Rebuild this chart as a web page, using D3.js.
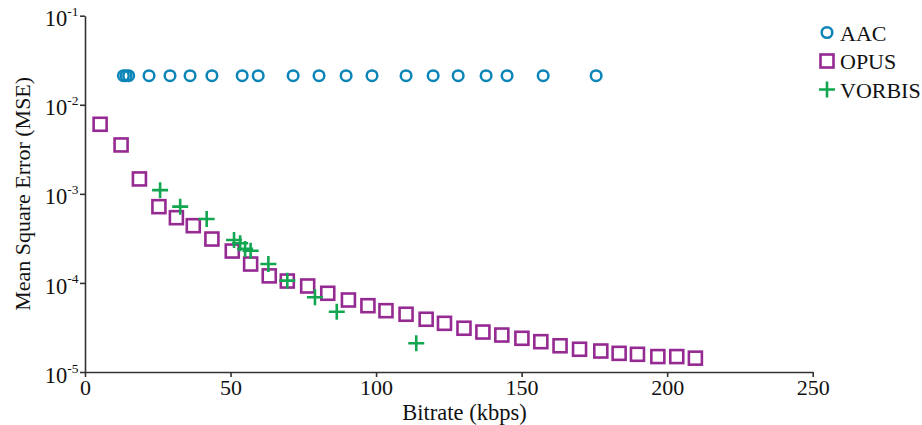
<!DOCTYPE html>
<html>
<head>
<meta charset="utf-8">
<script src="https://cdn.jsdelivr.net/npm/d3@7"></script>
<style>
  body { margin: 0; background: #fff; }
  text { font-family: "Liberation Serif", "DejaVu Serif", serif; fill: #111; }
</style>
</head>
<body>
<div id="chart"></div>
<script>
// values
var aacRate = [13.2, 14.1, 15.0, 22.0, 29.2, 36.1, 43.6, 54.0, 59.5, 71.5, 80.4, 89.7, 98.6, 110.3, 119.6, 128.2, 137.8, 145.0, 157.4, 175.6];
var aacMse = [0.0212, 0.0212, 0.0212, 0.0212, 0.0212, 0.0212, 0.0212, 0.0212, 0.0212, 0.0212, 0.0212, 0.0212, 0.0212, 0.0212, 0.0212, 0.0212, 0.0212, 0.0212, 0.0212, 0.0212];

var opusRate = [5.2, 12.4, 18.7, 25.4, 31.4, 37.2, 43.6, 50.6, 56.9, 63.3, 69.5, 76.5, 83.4, 90.5, 97.2, 103.4, 110.3, 117.2, 123.5, 130.2, 136.7, 143.2, 150.1, 156.6, 163.2, 169.9, 177.2, 183.5, 189.8, 196.8, 203.3, 209.7];
var opusMse = [6.04e-3, 3.54e-3, 1.47e-3, 7.18e-4, 5.40e-4, 4.39e-4, 3.11e-4, 2.28e-4, 1.63e-4, 1.20e-4, 1.05e-4, 9.24e-5, 7.65e-5, 6.43e-5, 5.55e-5, 4.88e-5, 4.45e-5, 3.91e-5, 3.52e-5, 3.10e-5, 2.81e-5, 2.60e-5, 2.39e-5, 2.19e-5, 1.97e-5, 1.80e-5, 1.72e-5, 1.62e-5, 1.58e-5, 1.49e-5, 1.49e-5, 1.43e-5];

var vorbisRate = [25.8, 32.7, 41.8, 51.2, 53.3, 55.0, 56.9, 63.0, 69.5, 79.0, 86.5, 113.8];
var vorbisMse = [1.10e-3, 7.18e-4, 5.22e-4, 3.03e-4, 2.79e-4, 2.41e-4, 2.30e-4, 1.63e-4, 1.06e-4, 6.90e-5, 4.75e-5, 2.10e-5];

var xTicks = [0, 50, 100, 150, 200, 250];
var yTicks = [1e-1, 1e-2, 1e-3, 1e-4, 1e-5];
var seriesNames = ['AAC', 'OPUS', 'VORBIS'];
var seriesColors = ['#0b84b8', '#952a92', '#12a650'];

var width = 922;
var height = 425;

var svg = d3
    .select('#chart')
    .append('svg')
    .attr('width', width)
    .attr('height', height);

var x = d3.scaleLinear().domain([0, 250]).range([85, 812.7]);
var y = d3.scaleLog().domain([1e-5, 1e-1]).range([372, 15.7]);

// x axis
var xAxis = svg
    .append('g')
    .attr('transform', `translate(0, ${y(1e-5)})`)
    .call(d3.axisBottom(x).tickValues(xTicks).tickSize(5).tickSizeOuter(0).tickPadding(2).tickFormat(d3.format('d')));

xAxis.selectAll('text').style('font-size', '22px');

// y axis, labels as 10 with superscript exponent
var yAxis = svg
    .append('g')
    .attr('transform', `translate(${x(0)}, 0)`)
    .call(d3.axisLeft(y).tickValues(yTicks).tickSize(5).tickSizeOuter(0).tickPadding(1.5).tickFormat(''));

yAxis.selectAll('.tick text')
    .style('font-size', '22.5px')
    .attr('dy', '0.45em')
    .each(function(d) {
        var t = d3.select(this);
        t.text(null);
        t.append('tspan').text('10');
        t.append('tspan')
            .attr('dy', '-0.75em')
            .style('font-size', '13.5px')
            .text(Math.round(Math.log10(d)));
    });

svg.selectAll('.domain, .tick line')
    .attr('stroke', '#333')
    .attr('stroke-width', 1.6);

// axis titles
svg.append('text')
    .attr('x', 464.5)
    .attr('y', 419.5)
    .attr('text-anchor', 'middle')
    .style('font-size', '22.5px')
    .text('Bitrate (kbps)');

svg.append('text')
    .attr('transform', `translate(29.5, ${(y(1e-1) + y(1e-5)) / 2})rotate(-90)`)
    .attr('text-anchor', 'middle')
    .style('font-size', '22px')
    .text('Mean Square Error (MSE)');

// marks
var plot = svg.append('g');

plot.selectAll('circle.aac')
    .data(d3.zip(aacRate, aacMse))
    .enter()
    .append('circle')
    .attr('class', 'aac')
    .attr('cx', d => x(d[0]))
    .attr('cy', d => y(d[1]))
    .attr('r', 5.3)
    .attr('fill', 'none')
    .attr('stroke', seriesColors[0])
    .attr('stroke-width', 2.5);

plot.selectAll('rect.opus')
    .data(d3.zip(opusRate, opusMse))
    .enter()
    .append('rect')
    .attr('class', 'opus')
    .attr('x', d => x(d[0]) - 6.5)
    .attr('y', d => y(d[1]) - 6.5)
    .attr('width', 13)
    .attr('height', 13)
    .attr('fill', 'none')
    .attr('stroke', seriesColors[1])
    .attr('stroke-width', 2.6);

var plus = 'M-8,0H8M0,-8V8';

plot.selectAll('path.vorbis')
    .data(d3.zip(vorbisRate, vorbisMse))
    .enter()
    .append('path')
    .attr('class', 'vorbis')
    .attr('transform', d => `translate(${x(d[0])}, ${y(d[1])})`)
    .attr('d', plus)
    .attr('fill', 'none')
    .attr('stroke', seriesColors[2])
    .attr('stroke-width', 2.6);

// legend
var legend = svg
    .append('g')
    .attr('transform', 'translate(827, 32.5)');

var rows = legend.selectAll('g')
    .data(seriesNames)
    .enter()
    .append('g')
    .attr('transform', (d, i) => `translate(0, ${i * 28.5})`);

rows.filter((d, i) => i == 0)
    .append('circle')
    .attr('r', 5.3)
    .attr('fill', 'none')
    .attr('stroke', seriesColors[0])
    .attr('stroke-width', 2.5);

rows.filter((d, i) => i == 1)
    .append('rect')
    .attr('x', -6.5)
    .attr('y', -6.5)
    .attr('width', 13)
    .attr('height', 13)
    .attr('fill', 'none')
    .attr('stroke', seriesColors[1])
    .attr('stroke-width', 2.6);

rows.filter((d, i) => i == 2)
    .append('path')
    .attr('d', plus)
    .attr('fill', 'none')
    .attr('stroke', seriesColors[2])
    .attr('stroke-width', 2.6);

rows.append('text')
    .attr('x', 13)
    .attr('y', 8)
    .style('font-size', '22px')
    .text(d => d);
</script>
</body>
</html>
